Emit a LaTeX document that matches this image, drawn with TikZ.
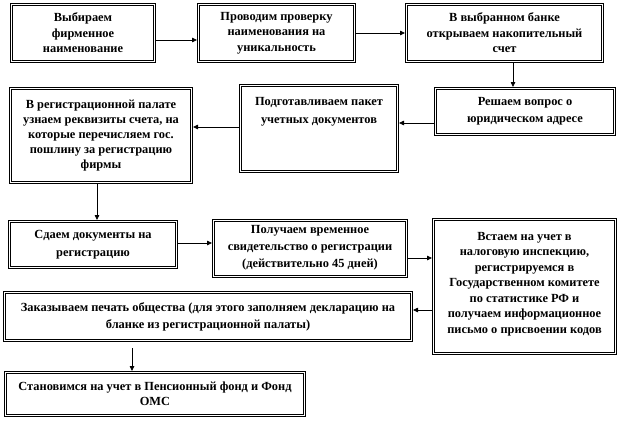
\documentclass[tikz,border=0pt]{standalone}
\usepackage{fontspec}
\setmainfont{Liberation Serif}[BoldFont={Liberation Serif Bold}]
\usetikzlibrary{arrows.meta}
\begin{document}
\begin{tikzpicture}[x=1pt,y=-1pt,
  txt/.style={inner sep=0pt, align=center, font=\bfseries\fontsize{12.4}{15.5}\selectfont},
  box/.style={txt, draw=black, line width=0.6pt, double=white, double distance=1.8pt, outer sep=1.5pt},
  arr/.style={line width=0.8pt, -{Triangle[length=5pt,width=4.5pt]}}]
\useasboundingbox (0,0) rectangle (620,420);
\fill[white] (0,0) rectangle (620,420);

\node[box, minimum width=143pt, minimum height=57pt] (b1) at (83,33) {Выбираем\\фирменное\\наименование};
\node[box, minimum width=156pt, minimum height=57pt] (b2) at (276.5,33) {Проводим проверку\\наименования на\\уникальность};
\node[box, minimum width=196pt, minimum height=57pt] (b3) at (504.5,33) {В выбранном банке\\открываем накопительный\\счет};
\node[box, minimum width=179pt, minimum height=46pt, font=\bfseries\fontsize{12.4}{17}\selectfont] (b4) at (525,111.5) {Решаем вопрос о\\юридическом адресе};
\node[box, minimum width=157pt, minimum height=86pt] (b5) at (319,128.5) {};
\node[txt, anchor=north, font=\bfseries\fontsize{12.4}{18}\selectfont] (t5) at ([yshift=-13pt]b5.north) {Подготавливаем пакет\\учетных документов};
\node[box, minimum width=181pt, minimum height=94pt, font=\bfseries\fontsize{12.4}{15}\selectfont] (b6) at (101,135.5) {В регистрационной палате\\узнаем реквизиты счета, на\\которые перечисляем гос.\\пошлину за регистрацию\\фирмы};
\node[box, minimum width=167pt, minimum height=46pt, font=\bfseries\fontsize{12.4}{18}\selectfont] (b7) at (93,244.5) {Сдаем документы на\\регистрацию};
\node[box, minimum width=193pt, minimum height=56pt] (b8) at (310,248.5) {};
\node[txt, font=\bfseries\fontsize{12.4}{17}\selectfont] (t8) at ([yshift=0.5pt]b8.center) {Получаем временное\\свидетельство о регистрации\\(действительно 45 дней)};
\node[box, minimum width=182pt, minimum height=134pt] (b9) at (524.5,286.5) {};
\node[txt] (t9) at ([yshift=2.5pt]b9.center) {Встаем на учет в\\налоговую инспекцию,\\регистрируемся в\\Государственном комитете\\по статистике РФ и\\получаем информационное\\письмо о присвоении кодов};
\node[box, minimum width=407pt, minimum height=48pt, font=\bfseries\fontsize{12.4}{17}\selectfont] (b10) at (208,316.5) {Заказываем печать общества (для этого заполняем декларацию на\\бланке из регистрационной палаты)};
\node[box, minimum width=299pt, minimum height=43pt, font=\bfseries\fontsize{12.4}{15}\selectfont] (b11) at (155,394) {Становимся на учет в Пенсионный фонд и Фонд\\ОМС};

\coordinate (p1) at ([yshift=-7pt]b1.east);
\coordinate (p3) at ([xshift=8.5pt]b3.south);
\coordinate (p4) at ([yshift=-11.5pt]b4.west);
\coordinate (p5) at ([yshift=1.5pt]b5.west);
\coordinate (p6) at ([xshift=-4pt]b6.south);
\coordinate (p7) at ([yshift=1.5pt]b7.east);
\coordinate (p8) at ([yshift=-9.5pt]b8.east);
\coordinate (p9) at ([yshift=-23.5pt]b9.west);
\coordinate (p10) at ([xshift=-76pt]b10.south);

\draw[arr] (p1) -- (p1 -| b2.west);
\draw[arr] (b2.east) -- (b3.west);
\draw[arr] (p3) -- (p3 |- b4.north);
\draw[arr] (p4) -- (p4 -| b5.east);
\draw[arr] (p5) -- (p5 -| b6.east);
\draw[arr] (p6) -- (p6 |- b7.north);
\draw[arr] (p7) -- (p7 -| b8.west);
\draw[arr] (p8) -- (p8 -| b9.west);
\draw[arr] (p9) -- (p9 -| b10.east);
\draw[arr, shorten <=6pt] (p10) -- (p10 |- b11.north);
\end{tikzpicture}
\end{document}
